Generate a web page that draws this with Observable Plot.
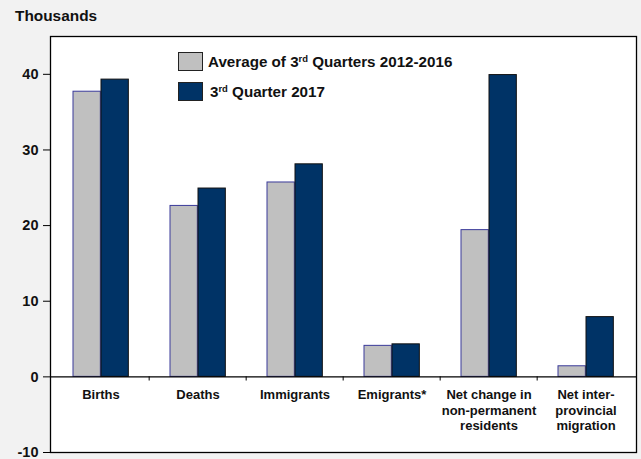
<!DOCTYPE html>
<html><head><meta charset="utf-8">
<script src="https://cdn.jsdelivr.net/npm/d3@7"></script>
<script src="https://cdn.jsdelivr.net/npm/@observablehq/plot@0.6"></script>
<style>
body{margin:0;background:#f2f2f2;font-family:"Liberation Sans",Arial,sans-serif;}
#wrap{position:relative;width:641px;height:459px;}
#wrap svg{position:absolute;left:0;top:0;}
.title{position:absolute;left:15px;top:7px;font-weight:bold;font-size:15.4px;color:#111;z-index:2;}
.leg{position:absolute;font-weight:bold;font-size:15.2px;color:#111;display:flex;align-items:center;white-space:nowrap;z-index:2;}
.sw{box-sizing:border-box;width:25px;height:19px;border:1px solid #222;margin-right:5px;}
sup{font-size:62%;line-height:0;vertical-align:0.55em;}
</style></head><body>
<div id="wrap"><div class="title">Thousands</div></div>
<script>
const categories = ["Births","Deaths","Immigrants","Emigrants*","Net change in\nnon-permanent\nresidents","Net inter-\nprovincial\nmigration"];
const avg2012_2016 = [37.7, 22.6, 25.7, 4.1, 19.4, 1.4];
const q3_2017 = [39.3, 24.9, 28.1, 4.3, 39.9, 7.9];
const yTicks = [-10, 0, 10, 20, 30, 40];
const seriesLabels = ["Average of 3<sup>rd</sup> Quarters 2012-2016", "3<sup>rd</sup> Quarter 2017"];
const seriesColors = ["#c0c0c0", "#003366"];
const seriesStrokes = ["#3a3a9a", "#111111"];

const W = 641, H = 459, mL = 50, mR = 5;
const bw = (W - mL - mR) / categories.length;

const chart = Plot.plot({
  width: W, height: H,
  marginLeft: mL, marginRight: mR, marginTop: 36, marginBottom: 7,
  style: {background: "transparent", fontFamily: "'Liberation Sans', Arial, sans-serif", color: "#111"},
  x: {domain: categories, padding: 0, axis: null},
  y: {domain: [-10, 45]},
  marks: [
    Plot.frame({fill: "white"}),
    Plot.barY(categories, {x: d => d, y: (d, i) => avg2012_2016[i], fill: seriesColors[0], stroke: seriesStrokes[0], strokeWidth: 1, insetLeft: 21, insetRight: bw - 49}),
    Plot.barY(categories, {x: d => d, y: (d, i) => q3_2017[i], fill: seriesColors[1], stroke: seriesStrokes[1], strokeWidth: 1, insetLeft: 49, insetRight: bw - 77}),
    Plot.ruleY([0], {stroke: "#000", strokeWidth: 1.2}),
    Plot.ruleX(categories.slice(1), {x: d => d, dx: -bw / 2, y1: 0, y2: -0.55, stroke: "#000"}),
    Plot.text(categories, {x: d => d, y: 0, dy: 11.5, lineAnchor: "top", fontWeight: "bold", fontSize: 13, lineHeight: 1.19, fill: "#111"}),
    Plot.axisY({ticks: yTicks, tickFormat: d => String(d), tickSize: 7, tickPadding: 5, fontSize: 14.5, fontWeight: "bold", label: null, stroke: "#000", fill: "#111"}),
    Plot.frame({stroke: "#000", strokeWidth: 1.3})
  ]
});
const wrap = document.getElementById("wrap");
wrap.appendChild(chart);

const legTops = [52, 82];
seriesLabels.forEach((lab, i) => {
  const d = document.createElement("div");
  d.className = "leg";
  d.style.left = "178px";
  d.style.top = legTops[i] + "px";
  d.innerHTML = `<div class="sw" style="background:${seriesColors[i]}"></div><span style="margin-left:${i ? 2 : 0}px">${lab}</span>`;
  wrap.appendChild(d);
});
</script>
</body></html>
